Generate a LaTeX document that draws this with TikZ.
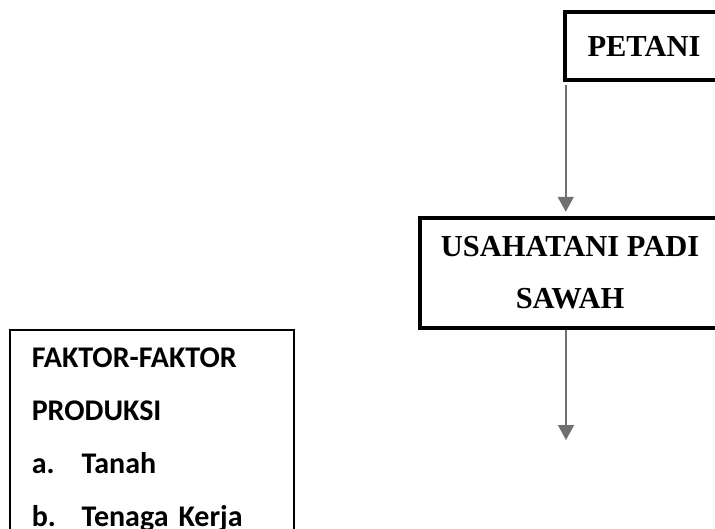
\documentclass[tikz,border=0pt]{standalone}
\usepackage{fontspec}
\setmainfont{Liberation Serif}
\newfontfamily\calibri{Carlito}
\usetikzlibrary{arrows.meta,positioning}
\definecolor{arrowgray}{HTML}{707070}
\tikzset{
  flowbox/.style={rectangle,draw,line width=4.5pt,align=center,font=\bfseries\fontsize{30.5}{52}\selectfont},
  listbox/.style={rectangle,draw,line width=1.5pt,align=left,inner xsep=22pt,inner ysep=18pt,font=\calibri\bfseries\fontsize{30}{53}\selectfont},
  flowarrow/.style={-{Triangle[width=16pt,length=15pt]},draw=arrowgray,line width=1.5pt}
}

\begin{document}
\begin{tikzpicture}[x=1pt,y=-1pt]
  \clip (0,0) rectangle (715,528);
  % Nodes
  \node[flowbox,minimum width=158pt,minimum height=68pt] (petani) at (644,46) {PETANI};
  \node[flowbox,minimum width=300pt,minimum height=110pt] (usaha) at (570,273) {USAHATANI PADI\\SAWAH};
  \node[listbox,anchor=north west,text width=240pt] (faktor) at (9,329) {FAKTOR-FAKTOR\\PRODUKSI\\\makebox[50pt][l]{a.}Tanah\\\makebox[50pt][l]{b.}Tenaga Kerja};
  \coordinate (start) at ([xshift=3pt,yshift=-3pt]petani.south west);
  \coordinate (hasil) at (566,440);

  % Arrows
  \draw[flowarrow] (start) -- ([yshift=4pt]start |- usaha.north);
  \draw[flowarrow] (usaha.south -| hasil) -- (hasil);
\end{tikzpicture}
\end{document}
